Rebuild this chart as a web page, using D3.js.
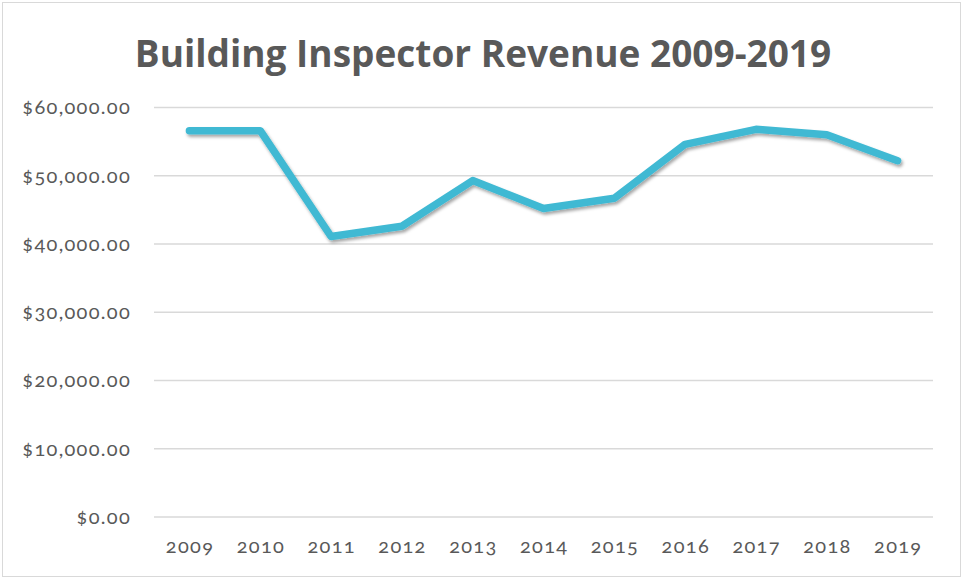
<!DOCTYPE html>
<html>
<head>
<meta charset="utf-8">
<script src="https://cdn.jsdelivr.net/npm/d3@7"></script>
<style>
  body { margin: 0; background: #fff; }
  #chart { width: 963px; height: 579px; }
  .tick text { font-family: Lato, "Open Sans", sans-serif; font-variant-numeric: oldstyle-nums; letter-spacing: 1.3px; }
</style>
</head>
<body>
<div id="chart"></div>
<script>
// data
const years = ["2009", "2010", "2011", "2012", "2013", "2014", "2015", "2016", "2017", "2018", "2019"];
const revenue = [56600, 56600, 41100, 42600, 49300, 45200, 46700, 54600, 56800, 56000, 52200];
const yTicks = [0, 10000, 20000, 30000, 40000, 50000, 60000];

const W = 963, H = 579;
const margin = { top: 107.5, right: 30, bottom: 62, left: 154 };
const width = W - margin.left - margin.right;
const height = H - margin.top - margin.bottom;

const svg = d3.select("#chart").append("svg")
    .attr("width", W)
    .attr("height", H);

// chart border
svg.append("rect")
    .attr("x", 2.5).attr("y", 2.5)
    .attr("width", W - 5).attr("height", H - 5)
    .attr("fill", "#fff")
    .attr("stroke", "#d9d9d9")
    .attr("stroke-width", 1);

// drop shadow for the line
const defs = svg.append("defs");
defs.append("filter")
    .attr("id", "shadow")
    .attr("x", "-10%").attr("y", "-10%")
    .attr("width", "120%").attr("height", "130%")
    .append("feDropShadow")
    .attr("dx", 1.5).attr("dy", 2.5)
    .attr("stdDeviation", 1.6)
    .attr("flood-color", "#000")
    .attr("flood-opacity", 0.35);

svg.append("text")
    .attr("x", 483)
    .attr("y", 67)
    .attr("text-anchor", "middle")
    .style("font-family", "'Open Sans', sans-serif")
    .style("font-weight", 700)
    .style("font-size", "37px")
    .style("fill", "#595959")
    .text("Building Inspector Revenue 2009-2019");

const g = svg.append("g")
    .attr("transform", "translate(" + margin.left + "," + margin.top + ")");

const x = d3.scaleBand()
    .domain(years)
    .range([0, width]);

const y = d3.scaleLinear()
    .domain([0, 60000])
    .range([height, 0]);

// gridlines
g.append("g")
    .selectAll("line")
    .data(yTicks)
    .join("line")
    .attr("x1", 0)
    .attr("x2", width)
    .attr("y1", function(d){ return y(d); })
    .attr("y2", function(d){ return y(d); })
    .attr("stroke", "#d9d9d9")
    .attr("stroke-width", 1.3);

const yAxis = g.append("g")
    .call(d3.axisLeft(y).tickValues(yTicks).tickSize(0).tickPadding(23)
        .tickFormat(function(d){ return "$" + d3.format(",.2f")(d); }));
yAxis.select(".domain").remove();
yAxis.selectAll("text")
    .style("font-size", "20px")
    .style("fill", "#595959");

const xAxis = g.append("g")
    .attr("transform", "translate(0," + height + ")")
    .call(d3.axisBottom(x).tickSize(0).tickPadding(22));
xAxis.select(".domain").remove();
xAxis.selectAll("text")
    .attr("dx", "0.65px")
    .style("font-size", "20px")
    .style("fill", "#595959");

const line = d3.line()
    .x(function(d, i){ return x(years[i]) + x.bandwidth() / 2; })
    .y(function(d){ return y(d); });

g.append("path")
    .datum(revenue)
    .attr("d", line)
    .attr("fill", "none")
    .attr("stroke", "#41b9d3")
    .attr("stroke-width", 7.5)
    .attr("stroke-linecap", "round")
    .attr("stroke-linejoin", "round")
    .attr("filter", "url(#shadow)");
</script>
</body>
</html>
